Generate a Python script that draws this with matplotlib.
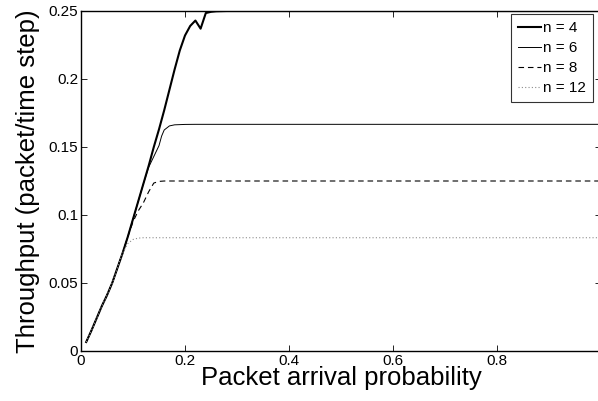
import matplotlib
matplotlib.use("Agg")
import matplotlib.pyplot as plt
import numpy as np

plt.rcParams['font.family'] = ['Liberation Sans', 'DejaVu Sans']

# Throughput vs. packet arrival probability for different network sizes
x_n4 = [0.01, 0.02, 0.03, 0.04, 0.05, 0.06, 0.07, 0.08, 0.09, 0.10, 0.11, 0.12,
        0.13, 0.14, 0.15, 0.16, 0.17, 0.18, 0.19, 0.20, 0.21, 0.22, 0.23, 0.24,
        0.25, 0.26, 0.27, 0.28, 0.30, 0.40, 0.60, 0.80, 1.00]
y_n4 = [0.0066, 0.015, 0.024, 0.033, 0.041, 0.050, 0.061, 0.072, 0.084, 0.097,
        0.110, 0.123, 0.136, 0.150, 0.163, 0.177, 0.192, 0.207, 0.221, 0.232,
        0.239, 0.243, 0.237, 0.2485, 0.2494, 0.2498, 0.2499, 0.25, 0.25, 0.25,
        0.25, 0.25, 0.25]

x_n6 = [0.01, 0.02, 0.03, 0.04, 0.05, 0.06, 0.07, 0.08, 0.09, 0.10, 0.11, 0.12,
        0.13, 0.14, 0.15, 0.155, 0.16, 0.17, 0.18, 0.20, 0.22, 0.30, 0.60, 1.00]
y_n6 = [0.0066, 0.015, 0.024, 0.033, 0.041, 0.050, 0.061, 0.072, 0.084, 0.097,
        0.110, 0.123, 0.135, 0.143, 0.151, 0.158, 0.1625, 0.1655, 0.1663,
        0.1666, 0.16667, 0.16667, 0.16667, 0.16667]

x_n8 = [0.01, 0.02, 0.03, 0.04, 0.05, 0.06, 0.07, 0.08, 0.09, 0.10, 0.11, 0.12,
        0.13, 0.14, 0.15, 0.16, 0.20, 0.60, 1.00]
y_n8 = [0.0066, 0.015, 0.024, 0.033, 0.041, 0.050, 0.061, 0.072, 0.084, 0.095,
        0.103, 0.109, 0.117, 0.1235, 0.1247, 0.125, 0.125, 0.125, 0.125]

x_n12 = [0.01, 0.02, 0.03, 0.04, 0.05, 0.06, 0.07, 0.08, 0.09, 0.10, 0.11,
         0.12, 0.20, 0.60, 1.00]
y_n12 = [0.0066, 0.015, 0.024, 0.033, 0.041, 0.050, 0.061, 0.072, 0.079,
         0.082, 0.083, 0.0833, 0.0833, 0.0833, 0.0833]

x_ticks = [0, 0.2, 0.4, 0.6, 0.8, 1.0]
x_ticklabels = ['0', '0.2', '0.4', '0.6', '0.8', '']
y_ticks = [0, 0.05, 0.1, 0.15, 0.2, 0.25]
y_ticklabels = ['0', '0.05', '0.1', '0.15', '0.2', '0.25']

fig = plt.figure(figsize=(5.98, 4.01), dpi=100)
ax = fig.add_axes([81 / 598, 50 / 401, 520 / 598, 340 / 401])

ax.plot(x_n4, y_n4, color='black', lw=1.5, label='n = 4')
ax.plot(x_n6, y_n6, color='black', lw=0.7, label='n = 6')
ax.plot(x_n8, y_n8, color='black', lw=0.8, ls=(0, (5, 3.5)), label='n = 8')
ax.plot(x_n12, y_n12, color='#8c8c8c', lw=0.8, ls=(0, (1, 2)), label='n = 12')

ax.set_xlim(0, 1)
ax.set_ylim(0, 0.25)
ax.set_xticks(x_ticks)
ax.set_xticklabels(x_ticklabels)
ax.set_yticks(y_ticks)
ax.set_yticklabels(y_ticklabels)
ax.tick_params(direction='in', length=4, width=0.6, top=True, right=True,
               labelsize=11, pad=2)
for s in ax.spines.values():
    s.set_linewidth(1.0)

ax.set_xlabel('Packet arrival probability', fontsize=18.5, labelpad=-1)
ax.set_ylabel('Throughput (packet/time step)', fontsize=18.5, labelpad=6)

leg = ax.legend(loc='upper right', bbox_to_anchor=(0.985, 0.991), fontsize=11,
                frameon=True, fancybox=False, edgecolor='black',
                handlelength=1.5, handletextpad=0.15, borderpad=0.45,
                labelspacing=0.4, borderaxespad=0)
leg.get_frame().set_linewidth(0.8)

fig.savefig('out.png', dpi=100)
